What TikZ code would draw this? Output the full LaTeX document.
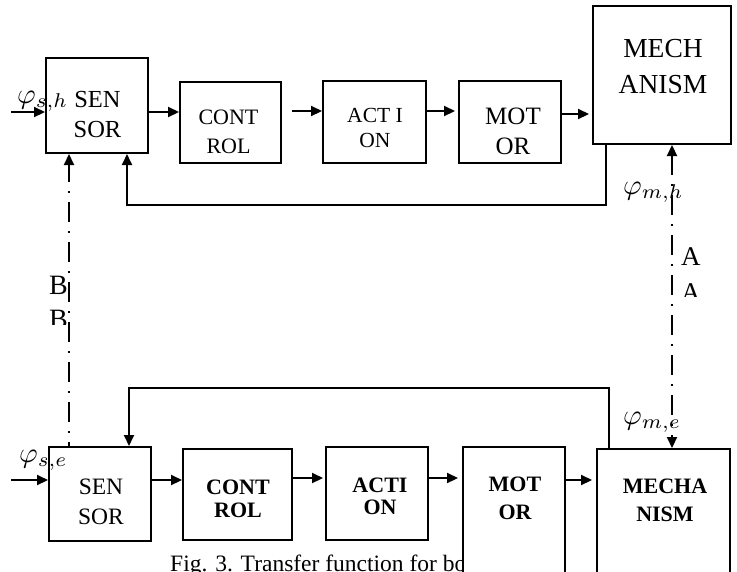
\documentclass[tikz,border=0pt]{standalone}
\usepackage{graphicx}
\usepackage{fontspec}
\setmainfont{Liberation Serif}
\usetikzlibrary{arrows.meta,calc}
\begin{document}
\begin{tikzpicture}[x=1pt,y=-1pt,
  box/.style={draw,line width=2pt,fill=white,inner sep=0pt,rectangle},
  lbl/.style={inner sep=0pt,align=center},
  tip/.tip={Triangle[length=11pt,width=10pt]},
  arr/.style={line width=2.2pt,-tip},
  fb/.style={line width=1.8pt,-tip},
  dd/.style={line width=2.2pt,dash pattern=on 20pt off 9pt on 1.8pt off 9.2pt},
  phi/.style={inner sep=0pt,anchor=base west,font=\fontsize{10}{10}\selectfont},
  big/.style={inner sep=0pt,anchor=base west}]
\useasboundingbox (0,0) rectangle (737,571);
\clip (0,0) rectangle (737,571);
\fill[white] (0,0) rectangle (737,571);

% caption (partly hidden behind the lower MOTOR box)
\node[big,font=\fontsize{23.5}{28}\selectfont] (cap) at (170,571) {Fig. 3. Transfer function for bot};

% upper row boxes
\node[box,minimum width=102pt,minimum height=95pt] (sensT) at (97,105.5) {};
\node[box,minimum width=101pt,minimum height=81pt] (ctrlT) at (230.5,122.5) {};
\node[box,minimum width=103pt,minimum height=82pt] (actT) at (374.5,122) {};
\node[box,minimum width=102pt,minimum height=82pt] (motT) at (510,122) {};
\node[box,minimum width=138pt,minimum height=138pt] (mechT) at (662,75) {};

% lower row boxes
\node[box,minimum width=102pt,minimum height=94pt] (sensB) at (100,494) {};
\node[box,minimum width=109pt,minimum height=91pt] (ctrlB) at (237.5,494.5) {};
\node[box,minimum width=102pt,minimum height=93pt] (actB) at (377,493.5) {};
\node[box,minimum width=102pt,minimum height=173pt] (motB) at (514,533.5) {};
\node[box,minimum width=133pt,minimum height=171pt] (mechB) at (663.5,534.5) {};

% box texts
\node[lbl,font=\fontsize{24.5}{30}\selectfont] (tsensT) at (97.5,115) {SEN\\SOR};
\node[lbl,font=\fontsize{22}{29}\selectfont] (tctrlT) at (228.5,131.5) {CONT\\ROL};
\node[lbl,font=\fontsize{21.5}{25}\selectfont] (tactT) at (375,127.5) {ACT I\\ON};
\node[lbl,font=\fontsize{25}{30}\selectfont] (tmotT) at (513,131.5) {MOT\\OR};
\node[lbl,font=\fontsize{27.5}{36}\selectfont] (tmechT) at (663,67) {MECH\\ANISM};

\node[lbl,font=\fontsize{23.5}{30}\selectfont] (tsensB) at (101,502) {SEN\\SOR};
\node[lbl,font=\bfseries\fontsize{22}{23.5}\selectfont] (tctrlB) at (238,499) {CONT\\ROL};
\node[lbl,font=\bfseries\fontsize{22}{22.5}\selectfont] (tactB) at (380,496.5) {ACTI\\ON};
\node[lbl,font=\bfseries\fontsize{22}{28}\selectfont] (tmotB) at (515,498.5) {MOT\\OR};
\node[lbl,font=\bfseries\fontsize{22}{28}\selectfont] (tmechB) at (665,500.5) {MECHA\\NISM};

% helper coordinates
\coordinate (inT) at (11,112);
\coordinate (r1) at (0,111);
\coordinate (r2) at (0,114);
\coordinate (inB) at (11,480);
\coordinate (r3) at (0,478);
\coordinate (aX) at (672,0);
\coordinate (bX) at (69,0);
\coordinate (fbT) at (0,205);
\coordinate (fbB) at (0,388);
\coordinate (fs1) at ($(mechT.south west)+(14,0)$);
\coordinate (fe1) at ($(sensT.south west)+(82,0)$);
\coordinate (fs2) at ($(mechB.north west)+(13,0)$);
\coordinate (fe2) at ($(sensB.north west)+(81,0)$);
\coordinate (c1) at ($(ctrlT.east |- r1)+(10,0)$);
\coordinate (m1) at ($(motT.east |- r2)+(-2,0)$);
\coordinate (m2) at ($(motB.east |- inB)+(-2,0)$);

% upper row arrows
\draw[arr] (inT) -- (inT -| sensT.west);
\draw[arr] (sensT.east |- inT) -- (inT -| ctrlT.west);
\draw[arr] (c1) -- (actT.west |- r1);
\draw[arr,shorten >=3pt] (actT.east |- r1) -- (motT.west |- r1);
\draw[arr,shorten >=3pt] (m1) -- (mechT.west |- r2);

% lower row arrows
\draw[arr] (inB) -- (inB -| sensB.west);
\draw[arr] (sensB.east |- inB) -- (inB -| ctrlB.west);
\draw[arr,shorten >=2pt] (ctrlB.east |- r3) -- (actB.west |- r3);
\draw[arr,shorten >=4pt] (actB.east |- r3) -- (motB.west |- r3);
\draw[arr,shorten >=4pt] (m2) -- (mechB.west |- inB);

% feedback loops
\draw[fb] (fs1) -- (fs1 |- fbT) -| (fe1);
\draw[fb] (fs2) -- (fs2 |- fbB) -| (fe2);

% dash-dot links
\draw[dd,tip-tip] (mechT.south -| aX) -- (mechB.north -| aX);
\draw[dd,dash phase=15.5pt,-tip] (sensB.north -| bX) -- (sensT.south -| bX);

% labels
\node[phi] (ph1) at (17,103) {\scalebox{2.85}{$\varphi_{s,h}$}};
\node[phi] (ph2) at (19,462) {\scalebox{2.85}{$\varphi_{s,e}$}};
\node[phi] (ph3) at (623,194) {\scalebox{2.85}{$\varphi_{m,h}$}};
\node[phi] (ph4) at (623,424) {\scalebox{2.85}{$\varphi_{m,e}$}};

\node[big,font=\fontsize{27}{27}\selectfont] (la1) at (681,265) {A};
\begin{scope}
  \clip (675,275) rectangle (712,296);
  \node[big,font=\fontsize{27}{27}\selectfont] (la2) at (681,301) {A};
\end{scope}
\node[big,font=\fontsize{28}{28}\selectfont] (lb1) at (49,294) {B};
\begin{scope}
  \clip (40,300) rectangle (68,324);
  \node[big,font=\fontsize{28}{28}\selectfont] (lb2) at (49,328.5) {B};
\end{scope}
\end{tikzpicture}
\end{document}
